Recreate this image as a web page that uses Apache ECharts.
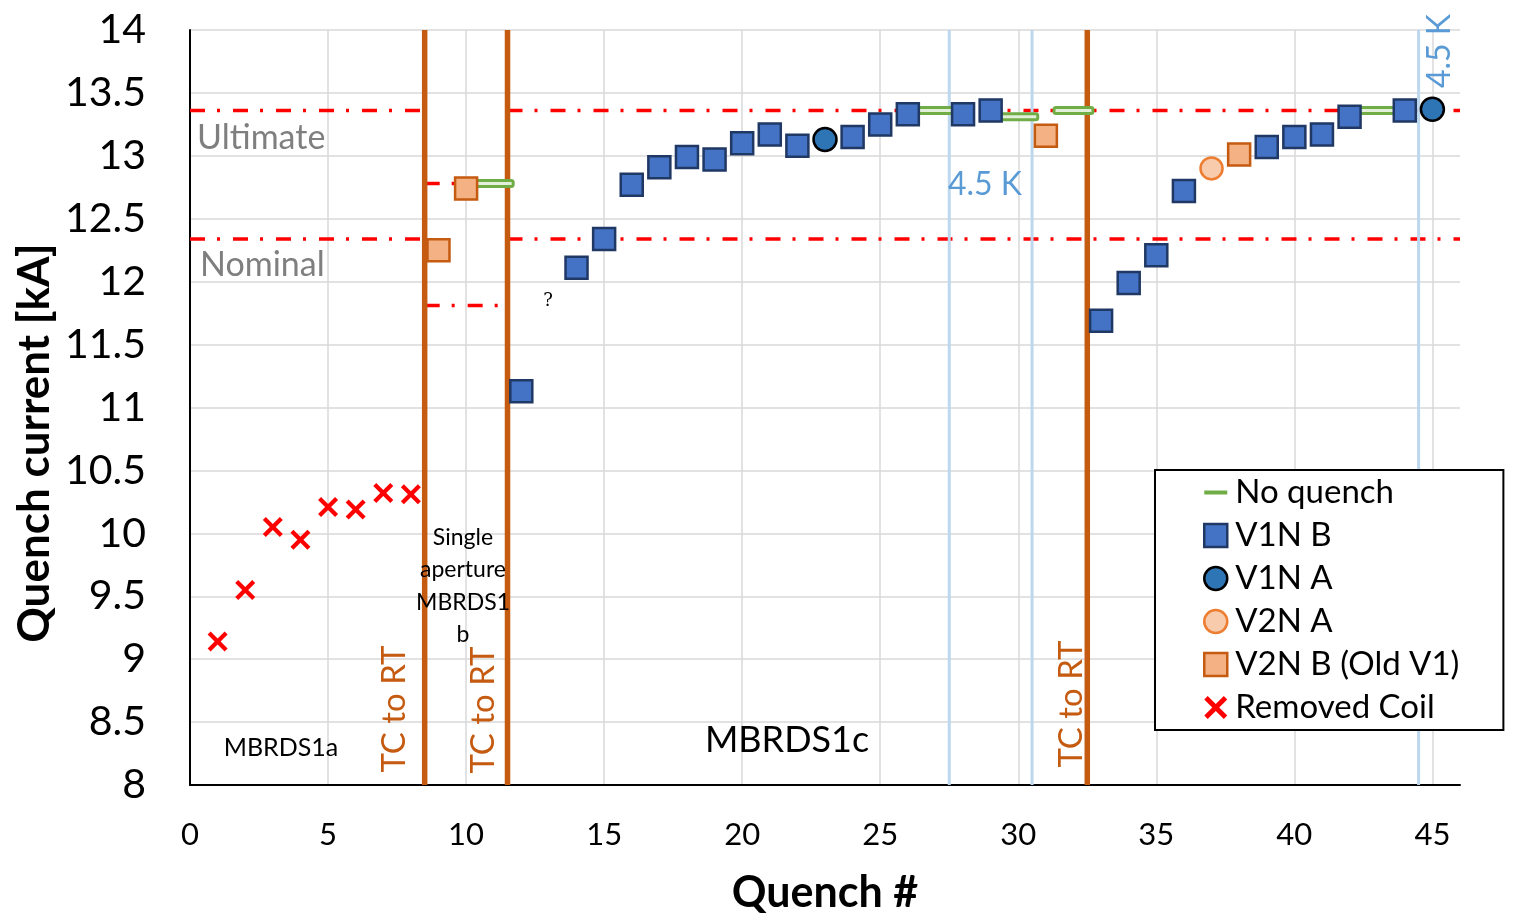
<!DOCTYPE html>
<html>
<head>
<meta charset="UTF-8">
<title>Quench history</title>
<script src="https://cdn.jsdelivr.net/npm/echarts@6/dist/echarts.min.js"></script>
<style>
    html, body { margin: 0; padding: 0; background: #fff; }
    #main { width: 1534px; height: 918px; }
</style>
</head>
<body>
<div id="main"></div>
<script>
    // quench number (x) and quench current in kA (y)
    var removedX = [1, 2, 3, 4, 5, 6, 7, 8];
    var removedY = [9.14, 9.55, 10.05, 9.95, 10.21, 10.19, 10.32, 10.31];
    var v1nbX = [12, 14, 15, 16, 17, 18, 19, 20, 21, 22, 24, 25, 26, 28, 29, 33, 34, 35, 36, 39, 40, 41, 42, 44];
    var v1nbY = [11.13, 12.11, 12.34, 12.77, 12.91, 12.99, 12.97, 13.10, 13.17, 13.08, 13.15, 13.25, 13.33, 13.33, 13.36,
                 11.69, 11.99, 12.21, 12.72, 13.07, 13.15, 13.17, 13.31, 13.36];
    var v1naX = [23, 45];
    var v1naY = [13.13, 13.37];
    var v2naX = [37];
    var v2naY = [12.90];
    var v2nbX = [9, 10, 31, 38];
    var v2nbY = [12.25, 12.74, 13.16, 13.01];
    var noQuenchX = [11, 27, 30, 32, 43];
    var noQuenchY = [12.78, 13.36, 13.31, 13.36, 13.36];

    // reference levels and events
    var ultimateKA = 13.36;
    var nominalKA = 12.34;
    var singleUltimateKA = 12.78;
    var singleNominalKA = 11.81;
    var tcToRtX = [8.5, 11.5, 32.5];
    var lowTempX = [27.5, 30.5, 44.5];
    // [from quench, to quench, level]
    var refSegments = [
        [0, 8.5, ultimateKA], [11.5, 46, ultimateKA],
        [0, 8.5, nominalKA], [11.5, 46, nominalKA],
        [8.5, 11.5, singleUltimateKA], [8.5, 11.5, singleNominalKA]
    ];

    var xMin = 0, xMax = 46, yMin = 8, yMax = 14;
    var barHalf = 0.76;
    var font = 'Lato';

    function zip(xs, ys) {
        return xs.map(function (x, i) { return [x, ys[i]]; });
    }

    var crossPath = 'path://M0,3 L3,0 L10,7 L17,0 L20,3 L13,10 L20,17 L17,20 L10,13 L3,20 L0,17 L7,10 Z';
    var barIcon = 'path://M0,0 L0.05,0 L0.05,0.05 Z M0,24 L0.05,24 L0,23.95 Z M0,10 L24,10 L24,14 L0,14 Z';

    function vLine(color, width) {
        return function (params, api) {
            var x = api.value(0);
            var p1 = api.coord([x, yMin]);
            var p2 = api.coord([x, yMax]);
            return {
                type: 'line',
                shape: { x1: p1[0], y1: p1[1], x2: p2[0], y2: p2[1] },
                style: { stroke: color, lineWidth: width }
            };
        };
    }

    var myChart = echarts.init(document.getElementById('main'));
    var option = {
        animation: false,
        grid: { left: 190, right: 74, top: 30, bottom: 133, containLabel: false, outerBoundsMode: 'none' },
        xAxis: {
            type: 'value', min: xMin, max: xMax, interval: 5,
            axisLine: { onZero: false, lineStyle: { color: '#000', width: 2 } },
            axisTick: { show: false },
            axisLabel: { showMaxLabel: false, fontFamily: font, fontSize: 31, color: '#000', margin: 34 },
            splitLine: { show: true, showMaxLine: false, lineStyle: { color: '#D9D9D9', width: 1.5 } }
        },
        yAxis: {
            type: 'value', min: yMin, max: yMax, interval: 0.5,
            axisLine: { show: true, onZero: false, lineStyle: { color: '#000', width: 2 } },
            axisTick: { show: false },
            axisLabel: { fontFamily: font, fontSize: 41, color: '#000', margin: 44 },
            splitLine: { show: true, lineStyle: { color: '#D9D9D9', width: 1.5 } }
        },
        legend: {
            orient: 'vertical', left: 1155, top: 470,
            padding: [6, 44, 6, 48],
            borderColor: '#000', borderWidth: 2, backgroundColor: '#fff',
            itemWidth: 23, itemHeight: 23, itemGap: 10,
            textStyle: { fontFamily: font, fontSize: 33, color: '#000', lineHeight: 33, padding: [0, 0, 0, 3] },
            data: [
                { name: 'No quench', icon: barIcon, itemStyle: { color: '#70AD47', borderWidth: 0 } },
                { name: 'V1N B', icon: 'rect', itemStyle: { borderWidth: 2.5 } },
                { name: 'V1N A', icon: 'circle', itemStyle: { borderWidth: 2.5 } },
                { name: 'V2N A', icon: 'circle', itemStyle: { borderWidth: 2.5 } },
                { name: 'V2N B (Old V1)', icon: 'rect', itemStyle: { borderWidth: 2.5 } },
                { name: 'Removed Coil', icon: crossPath, itemStyle: { borderWidth: 0 } }
            ]
        },
        series: [
            {
                name: 'limits', type: 'custom', z: 2, silent: true,
                data: refSegments,
                encode: { x: [0, 1], y: 2 },
                renderItem: function (params, api) {
                    var p1 = api.coord([api.value(0), api.value(2)]);
                    var p2 = api.coord([api.value(1), api.value(2)]);
                    return {
                        type: 'line',
                        shape: { x1: p1[0], y1: p1[1], x2: p2[0], y2: p2[1] },
                        style: { stroke: '#FF0000', lineWidth: 3.5, lineDash: [15, 12, 3, 13] }
                    };
                }
            },
            {
                name: 'TC to RT', type: 'custom', z: 3, silent: true,
                data: tcToRtX.map(function (x) { return [x, yMin]; }),
                renderItem: vLine('#C55A11', 5.5)
            },
            {
                name: '4.5 K', type: 'custom', z: 3, silent: true,
                data: lowTempX.map(function (x) { return [x, yMin]; }),
                renderItem: vLine('#BDD7EE', 3)
            },
            {
                name: 'No quench', type: 'custom', z: 4,
                itemStyle: { color: '#70AD47' },
                data: zip(noQuenchX, noQuenchY),
                renderItem: function (params, api) {
                    var y = api.value(1);
                    var p1 = api.coord([api.value(0) - barHalf, y]);
                    var p2 = api.coord([api.value(0) + barHalf, y]);
                    return {
                        type: 'rect',
                        shape: { x: p1[0] + 1.5, y: p1[1] - 3, width: p2[0] - p1[0] - 3, height: 6, r: 2 },
                        style: { fill: '#E2F0D9', stroke: '#70AD47', lineWidth: 3 }
                    };
                }
            },
            {
                name: 'V1N B', type: 'scatter', z: 5, symbol: 'rect', symbolSize: 22,
                data: zip(v1nbX, v1nbY),
                itemStyle: { color: '#4472C4', borderColor: '#203864', borderWidth: 2.5, opacity: 1 }
            },
            {
                name: 'V1N A', type: 'scatter', z: 5, symbol: 'circle', symbolSize: 23,
                data: zip(v1naX, v1naY),
                itemStyle: { color: '#2E75B6', borderColor: '#000', borderWidth: 2.5, opacity: 1 }
            },
            {
                name: 'V2N A', type: 'scatter', z: 5, symbol: 'circle', symbolSize: 22,
                data: zip(v2naX, v2naY),
                itemStyle: { color: '#F8CBAD', borderColor: '#ED7D31', borderWidth: 2.5, opacity: 1 }
            },
            {
                name: 'V2N B (Old V1)', type: 'scatter', z: 5, symbol: 'rect', symbolSize: 22,
                data: zip(v2nbX, v2nbY),
                itemStyle: { color: '#F4B183', borderColor: '#C55A11', borderWidth: 2.5, opacity: 1 }
            },
            {
                name: 'Removed Coil', type: 'scatter', z: 5, symbol: crossPath, symbolSize: 20,
                data: zip(removedX, removedY),
                itemStyle: { color: '#FF0000', opacity: 1 }
            }
        ],
        graphic: [
            { type: 'text', x: 197, y: 138, z: 10, style: { text: 'Ultimate', fill: '#7F7F7F', font: '34px Lato', align: 'left', verticalAlign: 'middle' } },
            { type: 'text', x: 200, y: 265, z: 10, style: { text: 'Nominal', fill: '#7F7F7F', font: '34px Lato', align: 'left', verticalAlign: 'middle' } },
            { type: 'text', x: 948, y: 185, z: 10, style: { text: '4.5 K', fill: '#5B9BD5', font: '32px Lato', align: 'left', verticalAlign: 'middle' } },
            { type: 'text', x: 1440, y: 51, rotation: Math.PI / 2, z: 10, style: { text: '4.5 K', fill: '#5B9BD5', font: '32px Lato', align: 'center', verticalAlign: 'middle' } },
            { type: 'text', x: 394, y: 709, rotation: Math.PI / 2, z: 10, style: { text: 'TC to RT', fill: '#C55A11', font: '33px Lato', align: 'center', verticalAlign: 'middle' } },
            { type: 'text', x: 483, y: 710, rotation: Math.PI / 2, z: 10, style: { text: 'TC to RT', fill: '#C55A11', font: '33px Lato', align: 'center', verticalAlign: 'middle' } },
            { type: 'text', x: 1071, y: 704, rotation: Math.PI / 2, z: 10, style: { text: 'TC to RT', fill: '#C55A11', font: '33px Lato', align: 'center', verticalAlign: 'middle' } },
            { type: 'text', x: 463, y: 586, z: 10, style: { text: 'Single\naperture\nMBRDS1\nb', fill: '#000', font: '23px Lato', lineHeight: 32.5, align: 'center', verticalAlign: 'middle' } },
            { type: 'text', x: 281, y: 748, z: 10, style: { text: 'MBRDS1a', fill: '#000', font: '25px Lato', align: 'center', verticalAlign: 'middle' } },
            { type: 'text', x: 787, y: 740, z: 10, style: { text: 'MBRDS1c', fill: '#000', font: '36px Lato', align: 'center', verticalAlign: 'middle' } },
            { type: 'text', x: 548, y: 301, z: 10, style: { text: '?', fill: '#000', font: '18px "DejaVu Serif"', align: 'center', verticalAlign: 'middle' } },
            { type: 'text', x: 825, y: 893, z: 10, style: { text: 'Quench #', fill: '#000', font: 'bold 43px Lato', align: 'center', verticalAlign: 'middle' } },
            { type: 'text', x: 35, y: 443, rotation: Math.PI / 2, z: 10, style: { text: 'Quench current [kA]', fill: '#000', font: 'bold 44px Lato', align: 'center', verticalAlign: 'middle' } }
        ]
    };
    myChart.setOption(option);
</script>
</body>
</html>
